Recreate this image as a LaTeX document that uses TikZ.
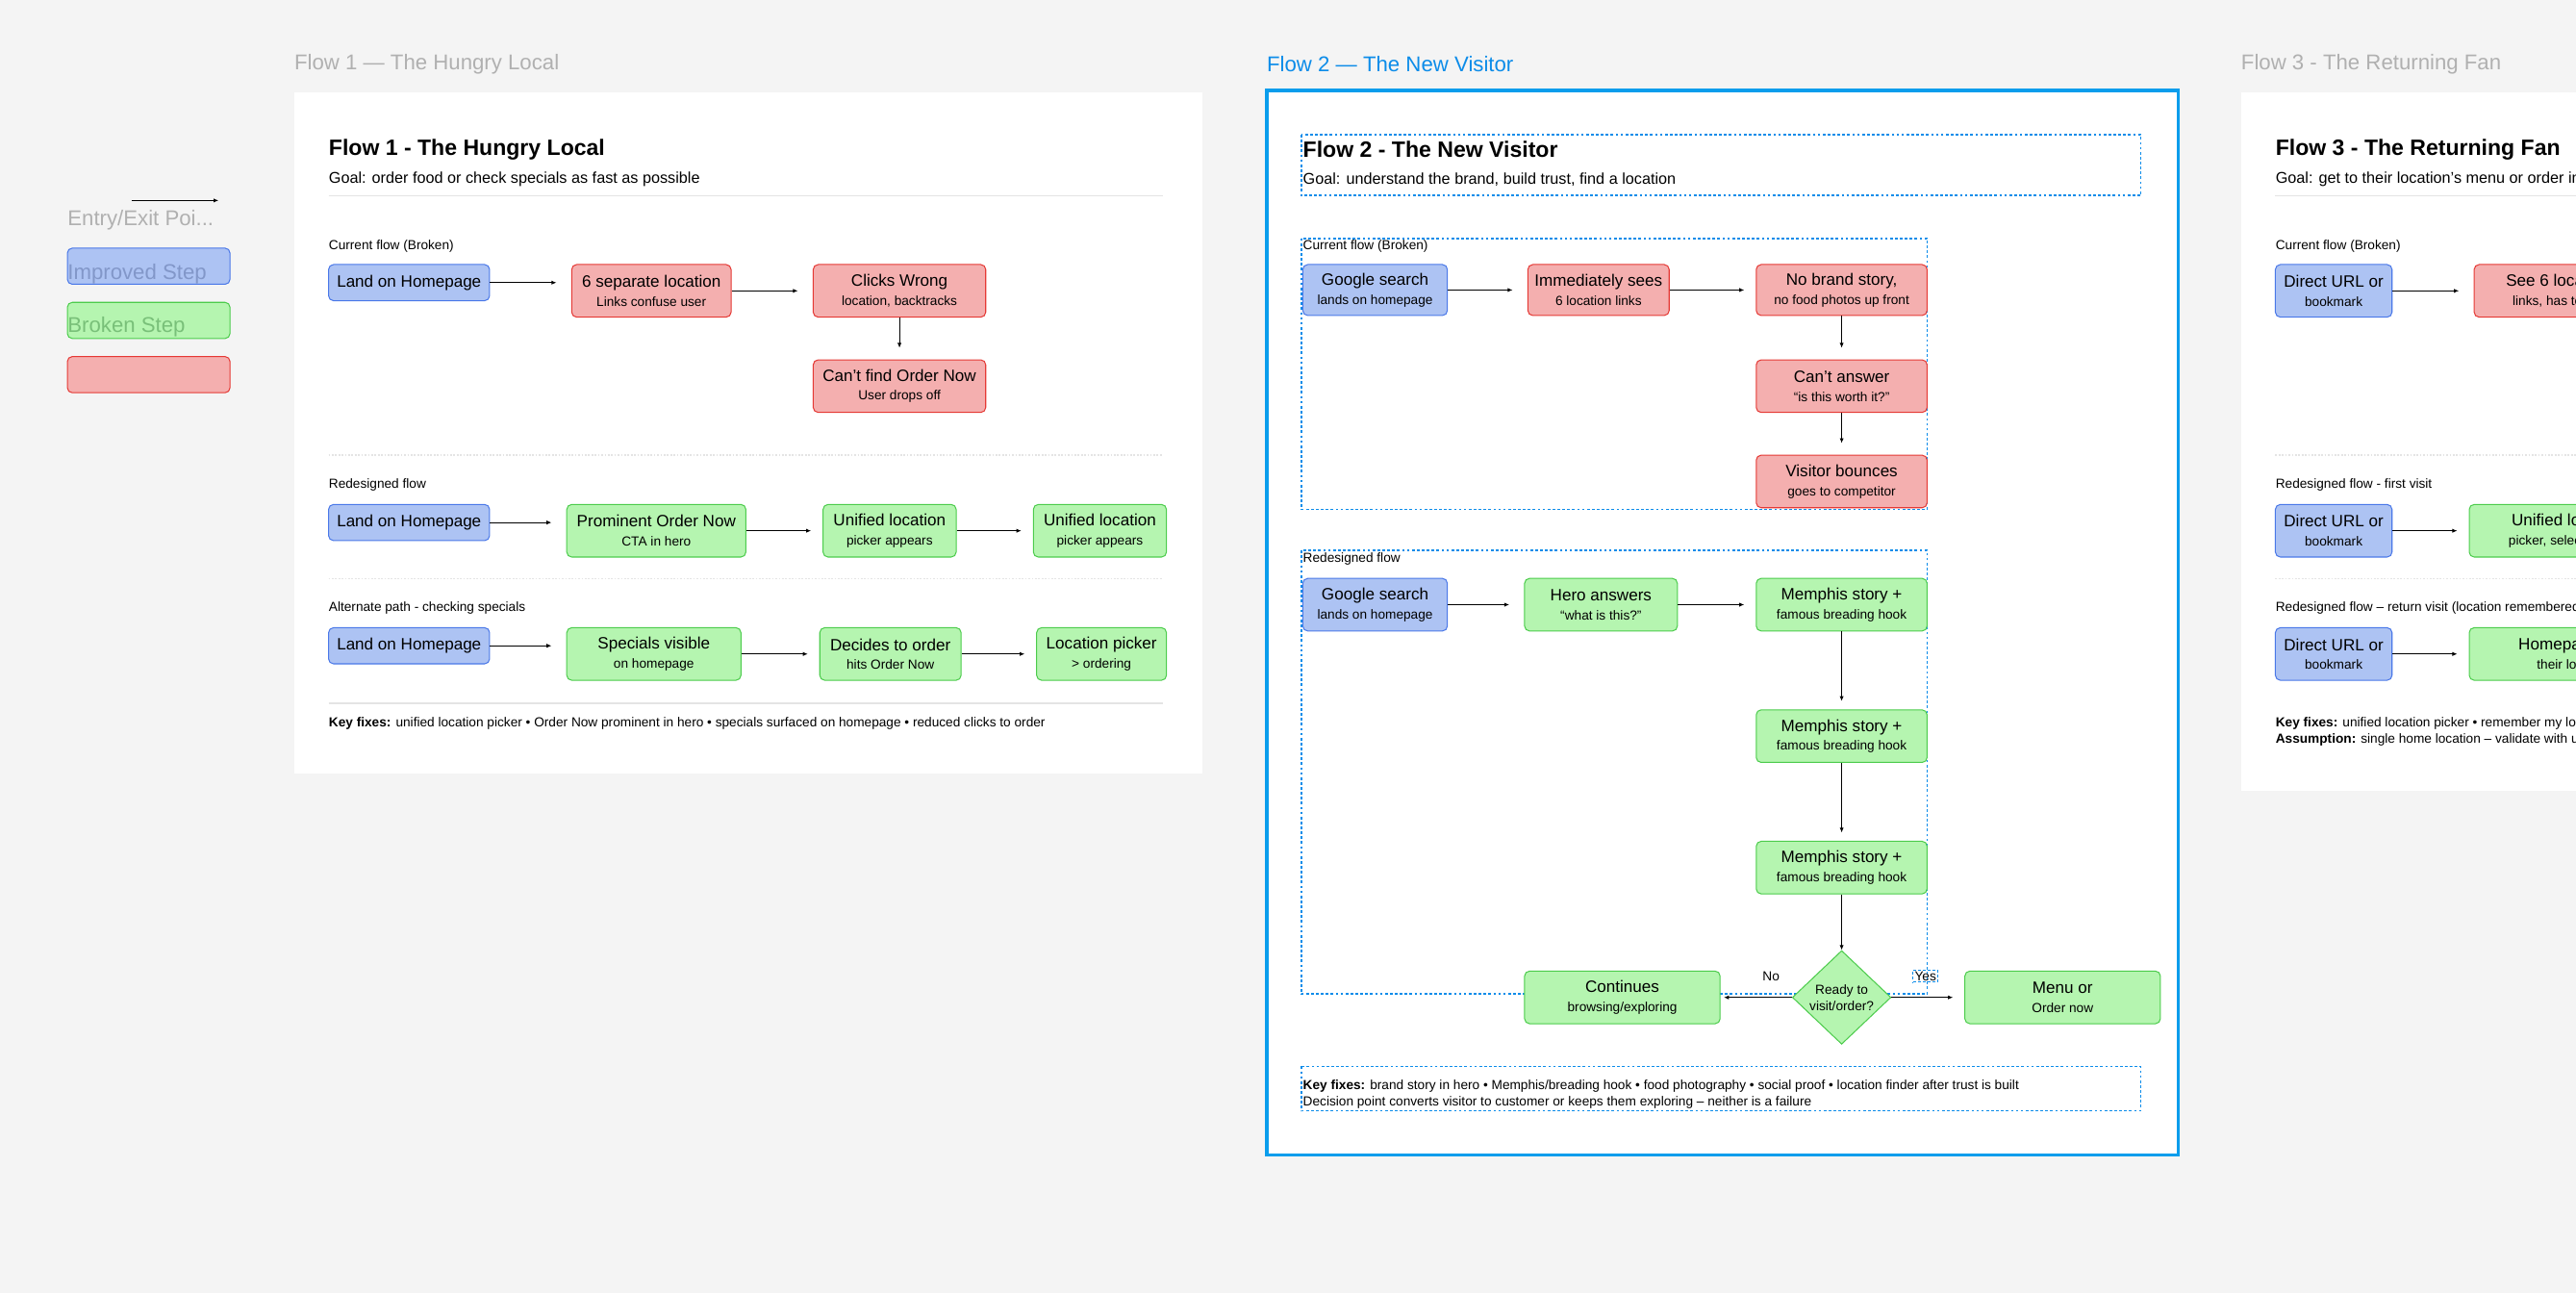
\documentclass[tikz,border=0pt]{standalone}
\usepackage{fontspec}
\setmainfont{Liberation Sans}
\usetikzlibrary{arrows.meta,shapes.geometric}
\definecolor{bgc}{HTML}{F4F4F4}
\definecolor{bfill}{HTML}{ADC3F3}\definecolor{bdraw}{HTML}{4A78E8}
\definecolor{rfill}{HTML}{F4AFAF}\definecolor{rdraw}{HTML}{E53935}
\definecolor{gfill}{HTML}{B5F5B0}\definecolor{gdraw}{HTML}{4CCC4C}
\definecolor{fblue}{HTML}{0C8CE9}\definecolor{lgray}{HTML}{B0B0B0}
\definecolor{sep}{HTML}{E4E4E4}
\newcommand\subl[1]{{\fontsize{8}{10}\selectfont #1}}
\begin{document}
\begin{tikzpicture}[x=1pt,y=-1pt,
  box/.style={rounded corners=3pt,line width=0.6pt,align=center,inner sep=0pt,font=\fontsize{10}{11.5}\selectfont},
  bb/.style={box,fill=bfill,draw=bdraw},
  rb/.style={box,fill=rfill,draw=rdraw},
  gb/.style={box,fill=gfill,draw=gdraw},
  arr/.style={-{Latex[length=3pt,width=2.5pt]},line width=0.5pt,shorten >=9pt},
  varr/.style={-{Latex[length=3pt,width=2.5pt]},line width=0.5pt,shorten >=7pt},
  dbox/.style={draw=fblue,line width=1pt,dash pattern=on 1.6pt off 1.4pt},
  flab/.style={anchor=west,font=\fontsize{13}{15}\selectfont,text=lgray,inner sep=0},
  ttl/.style={anchor=west,font=\fontsize{13.5}{15}\selectfont\bfseries,inner sep=0},
  goal/.style={anchor=west,font=\fontsize{9.5}{11}\selectfont,inner sep=0},
  sec/.style={anchor=west,font=\fontsize{8}{10}\selectfont,inner sep=0,align=left},
  solsep/.style={draw=sep,line width=0.8pt},
  dotsep/.style={draw=sep,line width=0.8pt,dash pattern=on 1pt off 1pt}]
\useasboundingbox (0,0) rectangle (1568,787);
\fill[bgc] (0,0) rectangle (1568,787);
% legend
\coordinate (la) at (80,122); \coordinate (lb) at (133,122);
\draw[-{Latex[length=3pt,width=2.5pt]},line width=0.5pt] (la) -- (lb);
\node[flab] (lent) at (41,134) {Entry/Exit Poi...};
\node[bb,minimum width=99,minimum height=22] (lbl) at (90.5,162) {};
\node[gb,minimum width=99,minimum height=22] (lgr) at (90.5,195) {};
\node[rb,minimum width=99,minimum height=22] (lrd) at (90.5,228) {};
\node[flab,text=bdraw!45!lgray] (limp) at (41,167) {Improved Step};
\node[flab,text=gdraw!55!lgray] (lbro) at (41,199) {Broken Step};
% frame labels
\node[flab] (f1l) at (179,39) {Flow 1 — The Hungry Local};
\node[flab,text=fblue] (f2l) at (771,39) {Flow 2 — The New Visitor};
\node[flab] (f3l) at (1364,39) {Flow 3 - The Returning Fan};
% frames
\fill[white] (179,56) rectangle (732,471);
\fill[white] (771,55) rectangle (1326,703);
\draw[fblue!85!cyan,line width=2pt] (771,55) rectangle (1326,703);
\fill[white] (1364,56) rectangle (1600,481);
%% FLOW 1
\node[ttl] (t1) at (200,91) {Flow 1 - The Hungry Local};
\node[goal] (g1) at (200,109) {Goal: order food or check specials as fast as possible};
\draw[solsep] (200,119) -- (708,119);
\node[sec] (s11) at (200,150) {Current flow (Broken)};
\node[bb,minimum width=98,minimum height=22] (a1) at (249,172) {Land on Homepage};
\node[rb,minimum width=97,minimum height=32] (a2) at (396.5,177) {6 separate location\\\subl{Links confuse user}};
\node[rb,minimum width=105,minimum height=32] (a3) at (547.5,177) {Clicks Wrong\\\subl{location, backtracks}};
\node[rb,minimum width=105,minimum height=32] (a4) at (547.5,235) {Can't find Order Now\\\subl{User drops off}};
\draw[arr] (a1.east) -- (a1.east -| a2.west);
\draw[arr] (a2) -- (a3);
\draw[varr] (a3) -- (a4);
\draw[dotsep] (200,277) -- (708,277);
\node[sec] (s12) at (200,295) {Redesigned flow};
\node[bb,minimum width=98,minimum height=22] (b1) at (249,318) {Land on Homepage};
\node[gb,minimum width=109,minimum height=32] (b2) at (399.5,323) {Prominent Order Now\\\subl{CTA in hero}};
\node[gb,minimum width=81,minimum height=32] (b3) at (541.5,323) {Unified location\\\subl{picker appears}};
\node[gb,minimum width=81,minimum height=32] (b4) at (669.5,323) {Unified location\\\subl{picker appears}};
\draw[arr] (b1.east) -- (b1.east -| b2.west);
\draw[arr,shorten >=7pt] (b2) -- (b3);
\draw[arr,shorten >=7pt] (b3) -- (b4);
\draw[dotsep] (200,352) -- (708,352);
\node[sec] (s13) at (200,370) {Alternate path - checking specials};
\node[bb,minimum width=98,minimum height=22] (c1) at (249,393) {Land on Homepage};
\node[gb,minimum width=106,minimum height=32] (c2) at (398,398) {Specials visible\\\subl{on homepage}};
\node[gb,minimum width=86,minimum height=32] (c3) at (542,398) {Decides to order\\\subl{hits Order Now}};
\node[gb,minimum width=79,minimum height=32] (c4) at (670.5,398) {Location picker\\\subl{> ordering}};
\draw[arr] (c1.east) -- (c1.east -| c2.west);
\draw[arr,shorten >=7pt] (c2) -- (c3);
\draw[arr,shorten >=7pt] (c3) -- (c4);
\draw[solsep] (200,428) -- (708,428);
\node[sec] (k1) at (200,440) {\textbf{Key fixes:} unified location picker • Order Now prominent in hero • specials surfaced on homepage • reduced clicks to order};
%% FLOW 2
\draw[dbox] (792,82) rectangle (1303,119);
\node[ttl] (t2) at (793,91) {Flow 2 - The New Visitor};
\node[goal] (g2) at (793,109) {Goal: understand the brand, build trust, find a location};
\draw[dbox] (792,145) rectangle (1173,310);
\node[sec] (s21) at (793,150) {Current flow (Broken)};
\node[bb,minimum width=88,minimum height=31] (d1) at (837,176.5) {Google search\\\subl{lands on homepage}};
\node[rb,minimum width=86,minimum height=31] (d2) at (973,176.5) {Immediately sees\\\subl{6 location links}};
\node[rb,minimum width=104,minimum height=31] (d3) at (1121,176.5) {No brand story,\\\subl{no food photos up front}};
\node[rb,minimum width=104,minimum height=32] (d4) at (1121,235) {Can't answer\\\subl{“is this worth it?”}};
\node[rb,minimum width=104,minimum height=32] (d5) at (1121,293) {Visitor bounces\\\subl{goes to competitor}};
\draw[arr] (d1) -- (d2);
\draw[arr,shorten >=7pt] (d2) -- (d3);
\draw[varr] (d3) -- (d4);
\draw[varr] (d4) -- (d5);
\draw[dbox] (792,335) rectangle (1173,605);
\node[sec] (s22) at (793,340) {Redesigned flow};
\node[bb,minimum width=88,minimum height=32] (e1) at (837,368) {Google search\\\subl{lands on homepage}};
\node[gb,minimum width=93,minimum height=32] (e2) at (974.5,368) {Hero answers\\\subl{“what is this?”}};
\node[gb,minimum width=104,minimum height=32] (e3) at (1121,368) {Memphis story +\\\subl{famous breading hook}};
\node[gb,minimum width=104,minimum height=32] (e4) at (1121,448) {Memphis story +\\\subl{famous breading hook}};
\node[gb,minimum width=104,minimum height=32] (e5) at (1121,528) {Memphis story +\\\subl{famous breading hook}};
\node[diamond,fill=gfill,draw=gdraw,line width=0.6pt,inner sep=0pt,minimum width=60,minimum height=57,align=center,font=\fontsize{8}{10}\selectfont] (dm) at (1121,607) {Ready to\\visit/order?};
\node[gb,minimum width=119,minimum height=32] (e6) at (987.5,607) {Continues\\\subl{browsing/exploring}};
\node[gb,minimum width=119,minimum height=32] (e7) at (1255.5,607) {Menu or\\\subl{Order now}};
\draw[arr] (e1) -- (e2);
\draw[arr,shorten >=7pt] (e2) -- (e3);
\draw[varr,shorten >=5pt] (e3) -- (e4);
\draw[varr,shorten >=5pt] (e4) -- (e5);
\draw[varr,shorten >=0pt] (e5) -- (dm);
\draw[arr,shorten >=2pt] (dm) -- (e6);
\draw[arr,shorten >=7pt] (dm) -- (e7);
\node[font=\fontsize{8}{10}\selectfont,inner sep=0] (no) at (1078,594) {No};
\node[font=\fontsize{8}{10}\selectfont,inner sep=1pt,dbox,line width=0.6pt] (yes) at (1172,594) {Yes};
\draw[dbox] (792,649) rectangle (1303,676);
\node[sec] (k2) at (793,661) {\textbf{Key fixes:} brand story in hero • Memphis/breading hook • food photography • social proof • location finder after trust is built};
\node[sec] (k2b) at (793,671) {Decision point converts visitor to customer or keeps them exploring – neither is a failure};
%% FLOW 3
\node[ttl] (t3) at (1385,91) {Flow 3 - The Returning Fan};
\node[goal] (g3) at (1385,109) {Goal: get to their location’s menu or order in as few clicks as possible};
\draw[solsep] (1385,119) -- (1600,119);
\node[sec] (s31) at (1385,150) {Current flow (Broken)};
\node[bb,minimum width=71,minimum height=32] (h1) at (1420.5,177) {Direct URL or\\\subl{bookmark}};
\node[rb,minimum width=110,minimum height=32] (h2) at (1561,177) {See 6 locations,\\\subl{links, has to scroll}};
\draw[arr] (h1) -- (h2);
\draw[dotsep] (1385,277) -- (1600,277);
\node[sec] (s32) at (1385,295) {Redesigned flow - first visit};
\node[bb,minimum width=71,minimum height=32] (i1) at (1420.5,323) {Direct URL or\\\subl{bookmark}};
\node[gb,minimum width=120,minimum height=32] (i2) at (1563,323) {Unified location\\\subl{picker, selects theirs}};
\draw[arr,shorten >=7pt] (i1) -- (i2);
\draw[dotsep] (1385,352) -- (1600,352);
\node[sec] (s33) at (1385,370) {Redesigned flow – return visit (location remembered)};
\node[bb,minimum width=71,minimum height=32] (j1) at (1420.5,398) {Direct URL or\\\subl{bookmark}};
\node[gb,minimum width=150,minimum height=32] (j2) at (1578,398) {Homepage opens to\\\subl{their location menu}};
\draw[arr,shorten >=7pt] (j1) -- (j2);
\node[sec] (k3) at (1385,440) {\textbf{Key fixes:} unified location picker • remember my location • one-click reorder};
\node[sec] (k3b) at (1385,450) {\textbf{Assumption:} single home location – validate with users};
\end{tikzpicture}
\end{document}
